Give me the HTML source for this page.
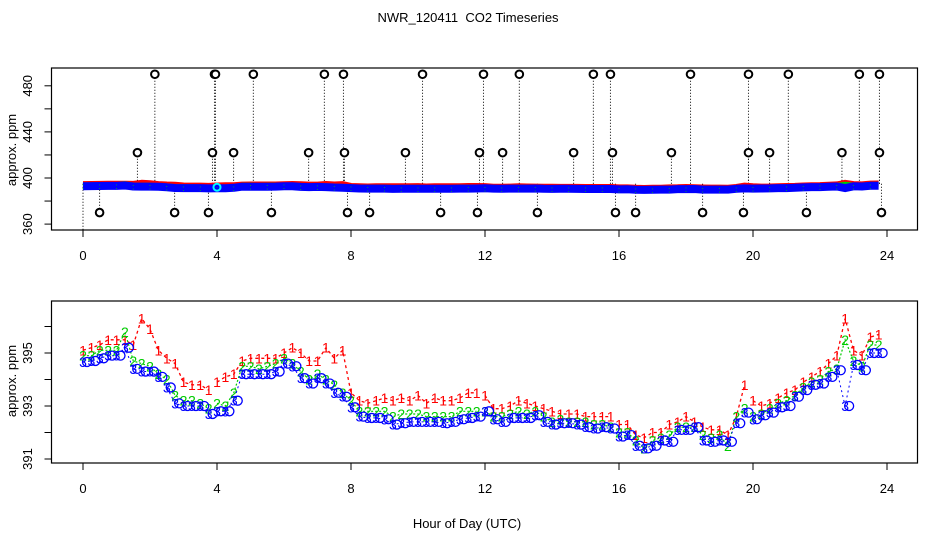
<!DOCTYPE html>
<html><head><meta charset="utf-8">
<style>
html,body{margin:0;padding:0;background:#fff;}
svg{display:block;font-family:"Liberation Sans",sans-serif;}
</style></head>
<body>
<svg id="chart" width="936" height="540" viewBox="0 0 936 540" xmlns="http://www.w3.org/2000/svg">
<rect width="936" height="540" fill="#fff"/>
<text x="468" y="22" text-anchor="middle" font-size="13" style="white-space:pre">NWR_120411  CO2 Timeseries</text>
<g id="topPanel"></g>
<g id="botPanel"></g>
<text x="467" y="528" text-anchor="middle" font-size="13">Hour of Day (UTC)</text>
</svg>
<script>
const hours = [0,0.25,0.5,0.75,1,1.25,1.5,1.75,2,2.25,2.5,2.75,3,3.25,3.5,3.75,
4,4.25,4.5,4.75,5,5.25,5.5,5.75,6,6.25,6.5,6.75,7,7.25,7.5,7.75,
8,8.25,8.5,8.75,9,9.25,9.5,9.75,10,10.25,10.5,10.75,11,11.25,11.5,11.75,
12,12.25,12.5,12.75,13,13.25,13.5,13.75,14,14.25,14.5,14.75,15,15.25,15.5,15.75,
16,16.25,16.5,16.75,17,17.25,17.5,17.75,18,18.25,18.5,18.75,19,19.25,19.5,19.75,
20,20.25,20.5,20.75,21,21.25,21.5,21.75,22,22.25,22.5,22.75,23,23.25,23.5,23.75];
const level3 = [394.66,394.7,394.8,394.9,394.9,395.2,394.4,394.3,394.3,394.1,393.7,393.1,393.0,393.0,393.0,392.7,
392.8,392.8,393.2,394.2,394.2,394.2,394.2,394.3,394.6,394.5,394.05,393.85,394.05,393.85,393.5,393.35,
392.95,392.6,392.55,392.55,392.5,392.3,392.35,392.4,392.4,392.4,392.4,392.35,392.4,392.5,392.55,392.6,
392.8,392.5,392.4,392.55,392.55,392.55,392.65,392.4,392.3,392.35,392.35,392.3,392.2,392.15,392.2,392.15,
391.85,391.9,391.5,391.4,391.5,391.7,391.65,392.1,392.1,392.2,391.7,391.65,391.7,391.65,392.35,392.75,
392.5,392.65,392.75,392.95,393.0,393.35,393.6,393.8,393.85,394.1,394.35,393.0,394.55,394.35,395.0,395.0];
const level1 = [395.1,395.2,395.3,395.5,395.5,395.5,395.3,396.3,395.9,395.1,394.8,394.6,393.9,393.8,393.8,393.6,
393.9,394.1,394.2,394.7,394.8,394.8,394.8,394.8,395.0,395.2,395.0,394.7,394.7,395.2,394.8,395.1,
393.5,393.2,393.1,393.2,393.3,393.2,393.3,393.2,393.4,393.1,393.3,393.2,393.2,393.3,393.5,393.5,
393.4,392.9,392.9,393.0,393.2,393.1,393.0,392.9,392.8,392.7,392.7,392.7,392.6,392.6,392.6,392.6,
392.3,392.3,391.9,391.8,392.0,392.0,392.3,392.4,392.6,392.4,392.2,392.1,392.1,391.9,392.6,393.8,
393.2,393.0,393.1,393.3,393.5,393.6,393.9,394.1,394.3,394.6,394.9,396.3,395.1,394.9,395.6,395.7];
const level2 = [394.9,394.9,395.1,395.1,395.1,395.8,394.7,394.6,394.5,394.2,394.0,393.4,393.2,393.2,393.1,392.9,
393.1,393.0,393.5,394.5,394.5,394.4,394.5,394.6,394.8,394.6,394.3,394.0,394.2,394.0,393.8,393.5,
393.2,392.8,392.8,392.8,392.8,392.6,392.7,392.7,392.7,392.6,392.6,392.6,392.6,392.8,392.8,392.8,
392.8,392.6,392.6,392.7,392.8,392.7,392.8,392.6,392.4,392.5,392.4,392.4,392.4,392.3,392.3,392.2,
392.0,392.0,391.7,391.4,391.7,391.8,391.9,392.2,392.2,392.2,391.9,391.8,391.9,391.5,392.6,392.9,
392.6,392.7,392.9,393.1,393.2,393.4,393.7,393.9,394.0,394.3,394.4,395.5,394.7,394.5,395.3,395.3];
const highOutlierHours = [2.16,3.91,3.97,5.07,7.22,7.76,10.15,11.94,13.04,15.22,15.76,18.12,19.88,21.04,23.19,23.76];
const midOutlierHours = [1.64,3.85,4.51,6.72,7.82,9.61,11.85,12.51,14.66,15.79,17.58,19.85,20.51,22.64,23.79];
const lowOutlierHours = [0.51,2.72,3.76,5.61,7.91,8.54,10.69,11.76,13.58,15.88,16.51,18.48,19.73,21.58,23.85];
const highValue = 490, midValue = 422, lowValue = 370;
const xTicks = [0,4,8,12,16,20,24];
const topYTicks = [360,380,400,420,440,460,480];
const topYLabels = [360,400,440,480];
const botYTicks = [391,392,393,394,395,396];
const botYLabels = [391,393,395];

const NS="http://www.w3.org/2000/svg";
function mk(parent,tag,attrs,text){const e=document.createElementNS(NS,tag);for(const k in attrs)e.setAttribute(k,attrs[k]);if(text!==undefined)e.textContent=text;parent.appendChild(e);return e;}
const X0=51.5,X1=917.5;
const xs=h=>83+h*33.5;
const topY=v=>178-(v-400)*1.1525;
const botY=v=>353-(v-395)*26.5;

function axes(g,yTop,yBot,yScale,yt,yl,labelY,ttl){
  const box=mk(g,'rect',{x:X0,y:yTop,width:X1-X0,height:yBot-yTop,fill:'none',stroke:'#000','stroke-width':1.2});
  
  
  xTicks.forEach(t=>{
    const l=mk(g,'line',{x1:xs(t),x2:xs(t),y1:yBot,y2:yBot+7,stroke:'#000'});
    
    
    const tx=mk(g,'text',{x:xs(t),y:yBot+30,'text-anchor':'middle','font-size':13},String(t));
    
    
  });
  yt.forEach(v=>{
    const l=mk(g,'line',{x1:X0-7,x2:X0,y1:yScale(v),y2:yScale(v),stroke:'#000'});
    
    
  });
  yl.forEach(v=>{
    const y=yScale(v);
    const tx=mk(g,'text',{x:32,y:y,'text-anchor':'middle','font-size':13,transform:`rotate(-90 32 ${y})`},String(v));
    
    
  });
  const t=mk(g,'text',{x:16,y:labelY,'text-anchor':'middle','font-size':13,transform:`rotate(-90 16 ${labelY})`},ttl);
  
  
}

// top panel
const topG=document.getElementById('topPanel');
axes(topG,68,230,topY,topYTicks,topYLabels,150,'approx. ppm');
function outliers(arr,val){
  arr.forEach((h,i)=>{
    const x=xs(h)+(i%2?0.5:-0.5);
    const l=mk(topG,'line',{x1:x,x2:x,y1:topY(395),y2:topY(val),stroke:'#000','stroke-dasharray':'1 2','stroke-width':1});
    
    
    const c=mk(topG,'circle',{cx:x,cy:topY(val),r:3.8,fill:'#fff',stroke:'#000','stroke-width':2});
    
    
  });
}
const fl=mk(topG,'line',{x1:xs(0),x2:xs(0),y1:topY(395),y2:230,stroke:'#000','stroke-dasharray':'1 2'});


outliers(highOutlierHours,highValue);outliers(midOutlierHours,midValue);outliers(lowOutlierHours,lowValue);
function band(arr,color,w,dy){
  const pts=arr.map((v,i)=>xs(hours[i]).toFixed(1)+','+(topY(v)+dy).toFixed(1)).join(' ');
  const p=mk(topG,'polyline',{points:pts,fill:'none',stroke:color,'stroke-width':w,'stroke-linejoin':'round'});
  
  
}
band(level1,'#f00',5,0);band(level2,'#0c0',5,1);band(level3,'#00f',8,2);
level3.forEach((v,i)=>{
  if(i%2) return;
  const d=mk(topG,'text',{x:xs(hours[i]),y:topY(v)+5,'font-size':8,fill:'#0c0','text-anchor':'middle'},':');
  
  
});
const cy=mk(topG,'circle',{cx:xs(4),cy:topY(392),r:3.5,fill:'none',stroke:'#0ff','stroke-width':2});



// bottom panel
const botG=document.getElementById('botPanel');
axes(botG,301,463,botY,botYTicks,botYLabels,381,'approx. ppm');
const brk=i=>[16,48,64,80].includes(i);
function series(arr,color,ch,dash,name,lw){
  let d='';
  arr.forEach((v,i)=>{d+=(i===0||brk(i)?'M':'L')+xs(hours[i]).toFixed(1)+' '+botY(v).toFixed(1)+' ';});
  const p=mk(botG,'path',{d:d,fill:'none',stroke:color,'stroke-width':lw,'stroke-dasharray':dash});
  
  
  arr.forEach((v,i)=>{
    if(ch==='3'){
      const c=mk(botG,'circle',{cx:xs(hours[i])+4,cy:botY(v),r:4.5,fill:'none',stroke:color,'stroke-width':1.3});
      
      
    }
    const t=mk(botG,'text',{x:xs(hours[i]),y:botY(v)+5,'font-size':14,fill:color,'text-anchor':'middle'},ch);
    
    
  });
}
series(level1,'#f00','1','3 3','level1',1.3);
series(level2,'#0c0','2','2 2','level2',1.2);
series(level3,'#00f','3','2 3','level3',1);
</script>
</body></html>
